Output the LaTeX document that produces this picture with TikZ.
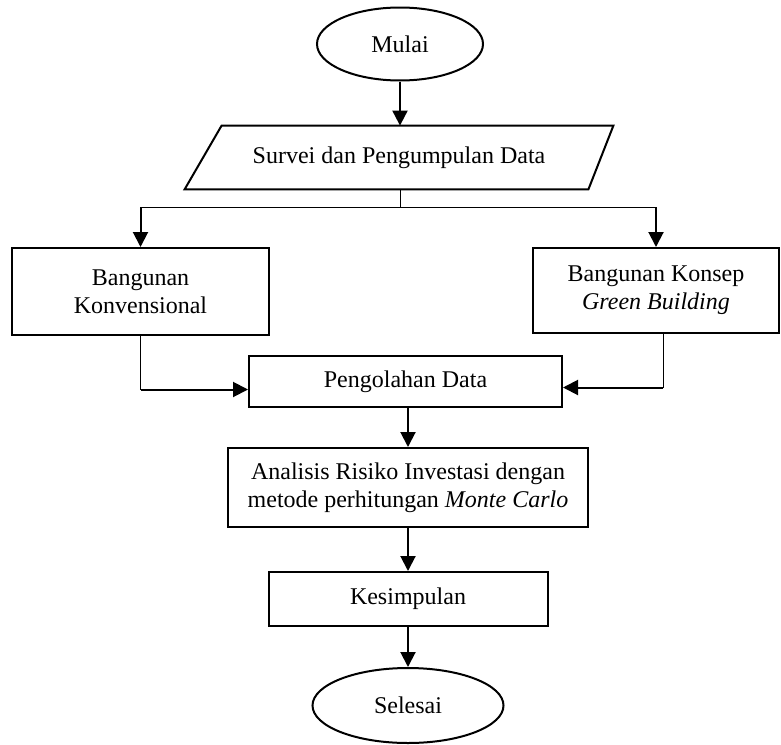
\documentclass[tikz,border=0pt]{standalone}
\usepackage{fontspec}
\setmainfont{Liberation Serif}
\usetikzlibrary{shapes.geometric}
\usetikzlibrary{arrows.meta}

\begin{document}
\begin{tikzpicture}[x=0.5pt, y=-0.5pt,
    every node/.style={font=\fontsize{12}{14}\selectfont, align=center, inner sep=0pt},
    box/.style={draw, line width=1pt, rectangle},
    terminal/.style={draw, line width=1pt, ellipse},
    link/.style={line width=0.5pt},
    arrow/.style={line width=1pt, -{Triangle[length=7.5pt, width=7.5pt]}}]

    \useasboundingbox (0,0) rectangle (781,744);

    % Start and input
    \node[terminal, minimum width=83pt, minimum height=36.5pt] (mulai) at (400,44) {Mulai};
    \node[minimum width=214pt, minimum height=31.5pt] (survei) at (399,157.5) {Survei dan Pengumpulan Data};
    \draw[line width=1pt] ([xshift=18.5pt]survei.north west) -- (survei.north east)
        -- ([xshift=-12.5pt]survei.south east) -- (survei.south west) -- cycle;

    % Two kinds of building
    \node[box, minimum width=128.5pt, minimum height=43.5pt] (konv) at (140.5,291.5) {Bangunan\\Konvensional};
    \node[box, minimum width=123pt, minimum height=42.5pt] (green) at (656,290.5) {Bangunan Konsep\\\textit{Green Building}};

    % Processing steps
    \node[box, minimum width=156.5pt, minimum height=25.5pt] (olah) at (405.5,381.5) {Pengolahan Data};
    \node[box, minimum width=180pt, minimum height=39.5pt] (analisis) at (408,487.5) {Analisis Risiko Investasi dengan\\metode perhitungan \textit{Monte Carlo}};
    \node[box, minimum width=139.5pt, minimum height=27pt] (simpul) at (408,599) {Kesimpulan};
    \node[terminal, minimum width=95.5pt, minimum height=37.5pt] (selesai) at (408,705.5) {Selesai};

    % Branch
    \coordinate (cabang) at (400,207);
    \draw[link] (mulai.south |- survei.south) -- (cabang);
    \draw[link] (konv.north |- cabang) -- (green.north |- cabang);
    \draw[arrow] (konv.north |- cabang) -- (konv.north);
    \draw[arrow] (green.north |- cabang) -- (green.north);

    % Merge
    \coordinate (kiri) at ([yshift=-4pt]olah.west);
    \coordinate (kanan) at ([yshift=-3pt]olah.east);
    \draw[link] (konv.south) -- (konv.south |- kiri);
    \draw[arrow] (konv.south |- kiri) -- (kiri);
    \draw[link] ([xshift=3.5pt]green.south) -- ([xshift=3.5pt]green.south |- kanan);
    \draw[arrow] ([xshift=3.5pt]green.south |- kanan) -- (kanan);

    % Main line
    \draw[arrow] (mulai) -- (mulai.south |- survei.north);
    \draw[arrow] (olah.south -| analisis) -- (analisis);
    \draw[arrow] (analisis) -- (simpul);
    \draw[arrow] (simpul) -- (selesai);

\end{tikzpicture}
\end{document}
